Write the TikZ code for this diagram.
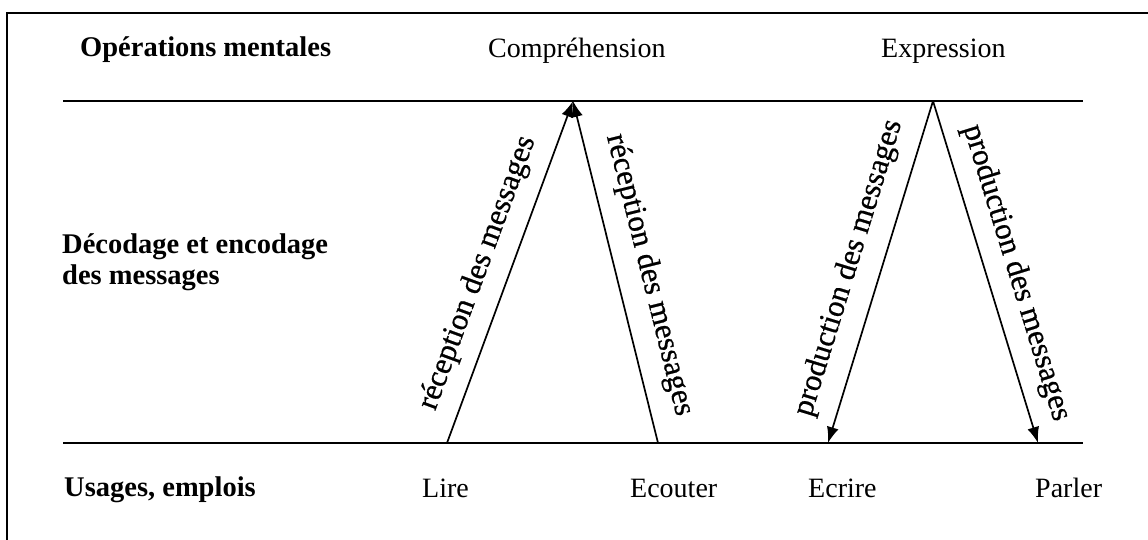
\documentclass[tikz,border=0pt]{standalone}
\usepackage{fontspec}
\setmainfont{Liberation Serif}
\newfontfamily\flowfont{Liberation Serif}[FakeBold=0.7]
\usetikzlibrary{arrows.meta}
\begin{document}
\begin{tikzpicture}[x=1pt,y=-1pt,
  heading/.style={anchor=base west,inner sep=0pt,font=\fontsize{28.5}{32}\selectfont\bfseries},
  term/.style={anchor=base west,inner sep=0pt,font=\fontsize{28}{32}\selectfont},
  flowlabel/.style={inner sep=0pt,font=\flowfont\fontsize{31}{34}\selectfont},
  rule/.style={line width=1.6pt},
  flow/.style={line width=1.7pt,-{Latex[length=16pt,width=12pt]}}]
\useasboundingbox (0,0) rectangle (1148,540);
% outer frame (top and left edges)
\draw[line width=2.4pt] (7,540) -- (7,13) -- (1148,13);
% level rules
\draw[rule] (63,101) -- (1083,101);
\draw[rule] (63,443) -- (1083,443);
% row headings
\node[heading] (ops) at (80,57) {Opérations mentales};
\node[heading] (dec1) at (62,253) {Décodage et encodage};
\node[heading] (dec2) at (62,284) {des messages};
\node[heading] (use) at (64,496) {Usages, emplois};
% upper level
\node[term] (comp) at (488,58) {Compréhension};
\node[term] (expr) at (881,58) {Expression};
% lower level
\node[term] (lire) at (422,497) {Lire};
\node[term] (ecou) at (630,497) {Ecouter};
\node[term] (ecri) at (808,497) {Ecrire};
\node[term] (parl) at (1035,497) {Parler};
% anchor points on the rules
\coordinate (pLire) at (447,443);
\coordinate (pEcou) at (658,443);
\coordinate (pEcri) at (828,443);
\coordinate (pParl) at (1038,443);
\coordinate (topC) at (573,101);
\coordinate (topE) at (933,101);
% reception (towards comprehension)
\draw[flow] (pLire) -- (topC);
\draw[flow] (pEcou) -- (topC);
% production (from expression)
\draw[flow] (topE) -- (pEcri);
\draw[flow] (topE) -- (pParl);
% labels along the arrows
\node[flowlabel,rotate=69.8] (lr1) at (478,273) {réception des messages};
\node[flowlabel,rotate=-76.0] (lr2) at (649,275) {réception des messages};
\node[flowlabel,rotate=72.9] (lp1) at (849,268) {production des messages};
\node[flowlabel,rotate=-72.9] (lp2) at (1016,273) {production des messages};
\end{tikzpicture}
\end{document}
